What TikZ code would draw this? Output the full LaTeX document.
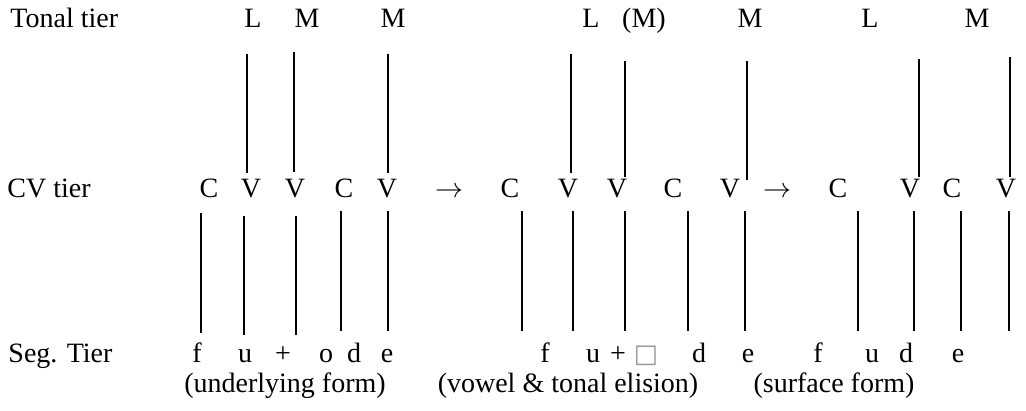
\documentclass[tikz,border=0pt]{standalone}
\usepackage{fontspec}
\setmainfont{Liberation Serif}
\newfontfamily\boxfont{DejaVu Sans}
\usetikzlibrary{positioning}
\definecolor{tiergray}{RGB}{150,150,150}
\tikzset{
  tierlabel/.style={anchor=base west, inner sep=0pt, font=\fontsize{12}{14}\selectfont},
  unit/.style={anchor=base, inner sep=0pt, font=\fontsize{12}{14}\selectfont},
  caption/.style={anchor=base, inner sep=0pt, font=\fontsize{12}{14}\selectfont},
  assoc/.style={line width=0.65pt, black}
}

\begin{document}
\begin{tikzpicture}[x=0.4286pt,y=-0.4286pt]
  \useasboundingbox (0,0) rectangle (1026,410);
  % tier labels
  \node[tierlabel] (tonal) at (10,28) {Tonal tier};
  \node[tierlabel] (cv) at (7,197) {CV tier};
  \node[tierlabel] (seg) at (8,362) {Seg. Tier};
  % tonal tier
  \foreach \n/\x/\t in {tL1/253/L, tM1/307/M, tM2/393/M, tL2/591/L, tMp/644/(M),
      tM3/750/M, tL3/870/L, tM4/977/M}
    \node[unit] (\n) at (\x,28) {\t};
  % CV tier
  \foreach \n/\x/\t in {c1/209/C, v1/251/V, v2/295/V, c2/344/C, v3/387/V,
      c3/510/C, v4/568/V, v5/617/V, c4/673/C, v6/730/V,
      c5/838/C, v7/910/V, c6/952/C, v8/1006/V}
    \node[unit] (\n) at (\x,197) {\t};
  \node[unit] (to1) at (449,197) {$\rightarrow$};
  \node[unit] (to2) at (777,197) {$\rightarrow$};
  % segmental tier
  \foreach \n/\x/\t in {s1/197/f, s2/245/u, s3/283/+, s4/326/o, s5/354/d, s6/387/e,
      s7/545/f, s8/593/u, s9/618/+, s11/699/d, s12/748/e,
      s13/818/f, s14/872/u, s15/906/d, s16/958/e}
    \node[unit] (\n) at (\x,362) {\t};
  \node[unit] (s10) at (646,362) {\boxfont\fontsize{11}{12}\selectfont\color{tiergray}□};
  % captions
  \node[caption] (under) at (285,392) {(underlying form)};
  \node[caption] (elide) at (568,392) {(vowel \& tonal elision)};
  \node[caption] (surf) at (834,392) {(surface form)};
  % association lines, tone to V
  \foreach \i/\x/\a/\b in {1/247/54/173, 2/294/52/172, 3/388/54/173, 4/571/54/173,
      5/625/61/177, 6/747/61/180, 7/919/59/177, 8/1010/57/177}{
    \coordinate (tu\i) at (\x,\a);
    \coordinate (td\i) at (\x,\b);
    \draw[assoc] (tu\i) -- (td\i);
  }
  % association lines, CV to segments
  \foreach \i/\x/\a/\b in {1/201/213/333, 2/244/216/335, 3/296/216/335, 4/341/211/331,
      5/388/211/331, 6/522/211/331, 7/573/211/331, 8/625/211/331, 9/688/211/331,
      10/745/211/331, 11/858/211/331, 12/914/211/331, 13/961/211/331, 14/1009/211/331}{
    \coordinate (su\i) at (\x,\a);
    \coordinate (sd\i) at (\x,\b);
    \draw[assoc] (su\i) -- (sd\i);
  }
\end{tikzpicture}
\end{document}
